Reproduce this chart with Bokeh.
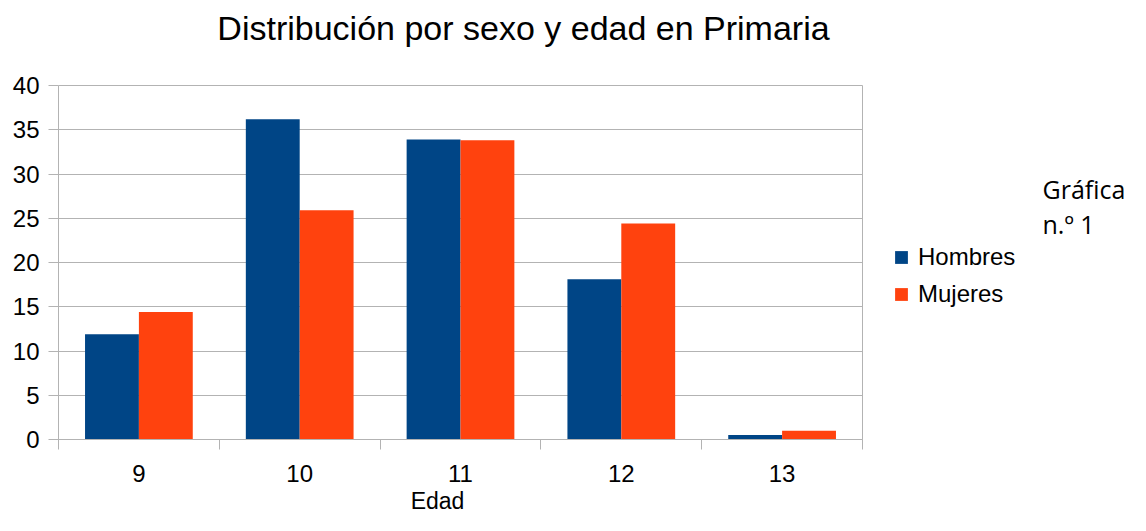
from bokeh.plotting import figure
from bokeh.models import Range1d, FixedTicker, Legend, LegendItem, Label
from bokeh.embed import file_html
from bokeh.resources import INLINE

# ---- data ----
edades = ["9", "10", "11", "12", "13"]
hombres = [11.9, 36.2, 33.9, 18.1, 0.5]
mujeres = [14.4, 25.9, 33.8, 24.4, 1.0]
y_ticks = [0, 5, 10, 15, 20, 25, 30, 35, 40]
titulo = "Distribución por sexo y edad en Primaria"
eje_x = "Edad"
nota = ["Gráfica", "n.º 1"]

C_H = "#004586"
C_M = "#ff420e"
GRID = "#b3b3b3"
FONT = "Liberation Sans"

W, H = 1130, 515
# plot area in canvas pixels
X0, X1, Y0, Y1 = 58, 862, 439, 85
n = len(edades)
ymax = y_ticks[-1]
pxx = (X1 - X0) / n
pxy = (Y0 - Y1) / ymax

p = figure(width=W, height=H, output_backend="svg", toolbar_location=None,
           x_range=Range1d(-X0 / pxx, (W - X0) / pxx),
           y_range=Range1d(-(H - Y0) / pxy, Y0 / pxy),
           min_border=0)
p.outline_line_color = None
p.background_fill_color = "white"
p.border_fill_color = "white"

centers = [i + 0.5 for i in range(n)]
bw = 0.335
rh = p.vbar(x=[c - bw / 2 for c in centers], top=hombres, width=bw, fill_color=C_H, line_color=None)
rm = p.vbar(x=[c + bw / 2 for c in centers], top=mujeres, width=bw, fill_color=C_M, line_color=None)

# x axis: labels at centers, ticks at category boundaries
xa = p.xaxis[0]
xa.fixed_location = 0
xa.bounds = (0, n)
xa.ticker = FixedTicker(ticks=centers, minor_ticks=list(range(n + 1)))
xa.major_label_overrides = {c: e for c, e in zip(centers, edades)}
xa.major_tick_out = 0
xa.major_tick_in = 0
xa.minor_tick_out = 10
xa.minor_tick_in = 0
xa.minor_tick_line_color = GRID
xa.axis_line_color = GRID
xa.major_label_text_font = FONT
xa.major_label_text_font_size = "24px"
xa.major_label_text_color = "black"
xa.major_label_standoff = 15

ya = p.yaxis[0]
ya.fixed_location = 0
ya.bounds = (0, ymax)
ya.ticker = FixedTicker(ticks=y_ticks)
ya.minor_tick_line_color = None
ya.major_tick_out = 10
ya.major_tick_in = 0
ya.major_tick_line_color = GRID
ya.axis_line_color = GRID
ya.major_label_text_font = FONT
ya.major_label_text_font_size = "24px"
ya.major_label_text_color = "black"
ya.major_label_standoff = 9

p.ygrid.ticker = FixedTicker(ticks=y_ticks)
p.ygrid.cross_bounds = (0, n)
p.ygrid.grid_line_color = GRID
p.xgrid.ticker = FixedTicker(ticks=[n])
p.xgrid.cross_bounds = (0, ymax)
p.xgrid.grid_line_color = GRID

legend = Legend(items=[LegendItem(label="Hombres", renderers=[rh]),
                       LegendItem(label="Mujeres", renderers=[rm])],
                location=(893, 207), orientation="vertical",
                glyph_width=16, glyph_height=16, label_standoff=9, spacing=9,
                label_height=16, padding=0, margin=0,
                border_line_color=None, background_fill_alpha=0,
                label_text_font=FONT, label_text_font_size="24px", label_text_color="black")
p.add_layout(legend, "center")

p.add_layout(Label(x=523, y=488, x_units="screen", y_units="screen", text=titulo,
                   text_align="center", text_baseline="alphabetic",
                   text_font=FONT, text_font_size="34px", text_color="black"))
p.add_layout(Label(x=437, y=15, x_units="screen", y_units="screen", text=eje_x,
                   text_align="center", text_baseline="alphabetic",
                   text_font=FONT, text_font_size="23px", text_color="black"))
for t, yy in zip(nota, [327, 292]):
    p.add_layout(Label(x=1042, y=yy, x_units="screen", y_units="screen", text=t,
                       text_align="left", text_baseline="alphabetic",
                       text_font="Open Sans", text_font_size="25px", text_color="black"))

open("out.html", "w").write(file_html(p, INLINE))
